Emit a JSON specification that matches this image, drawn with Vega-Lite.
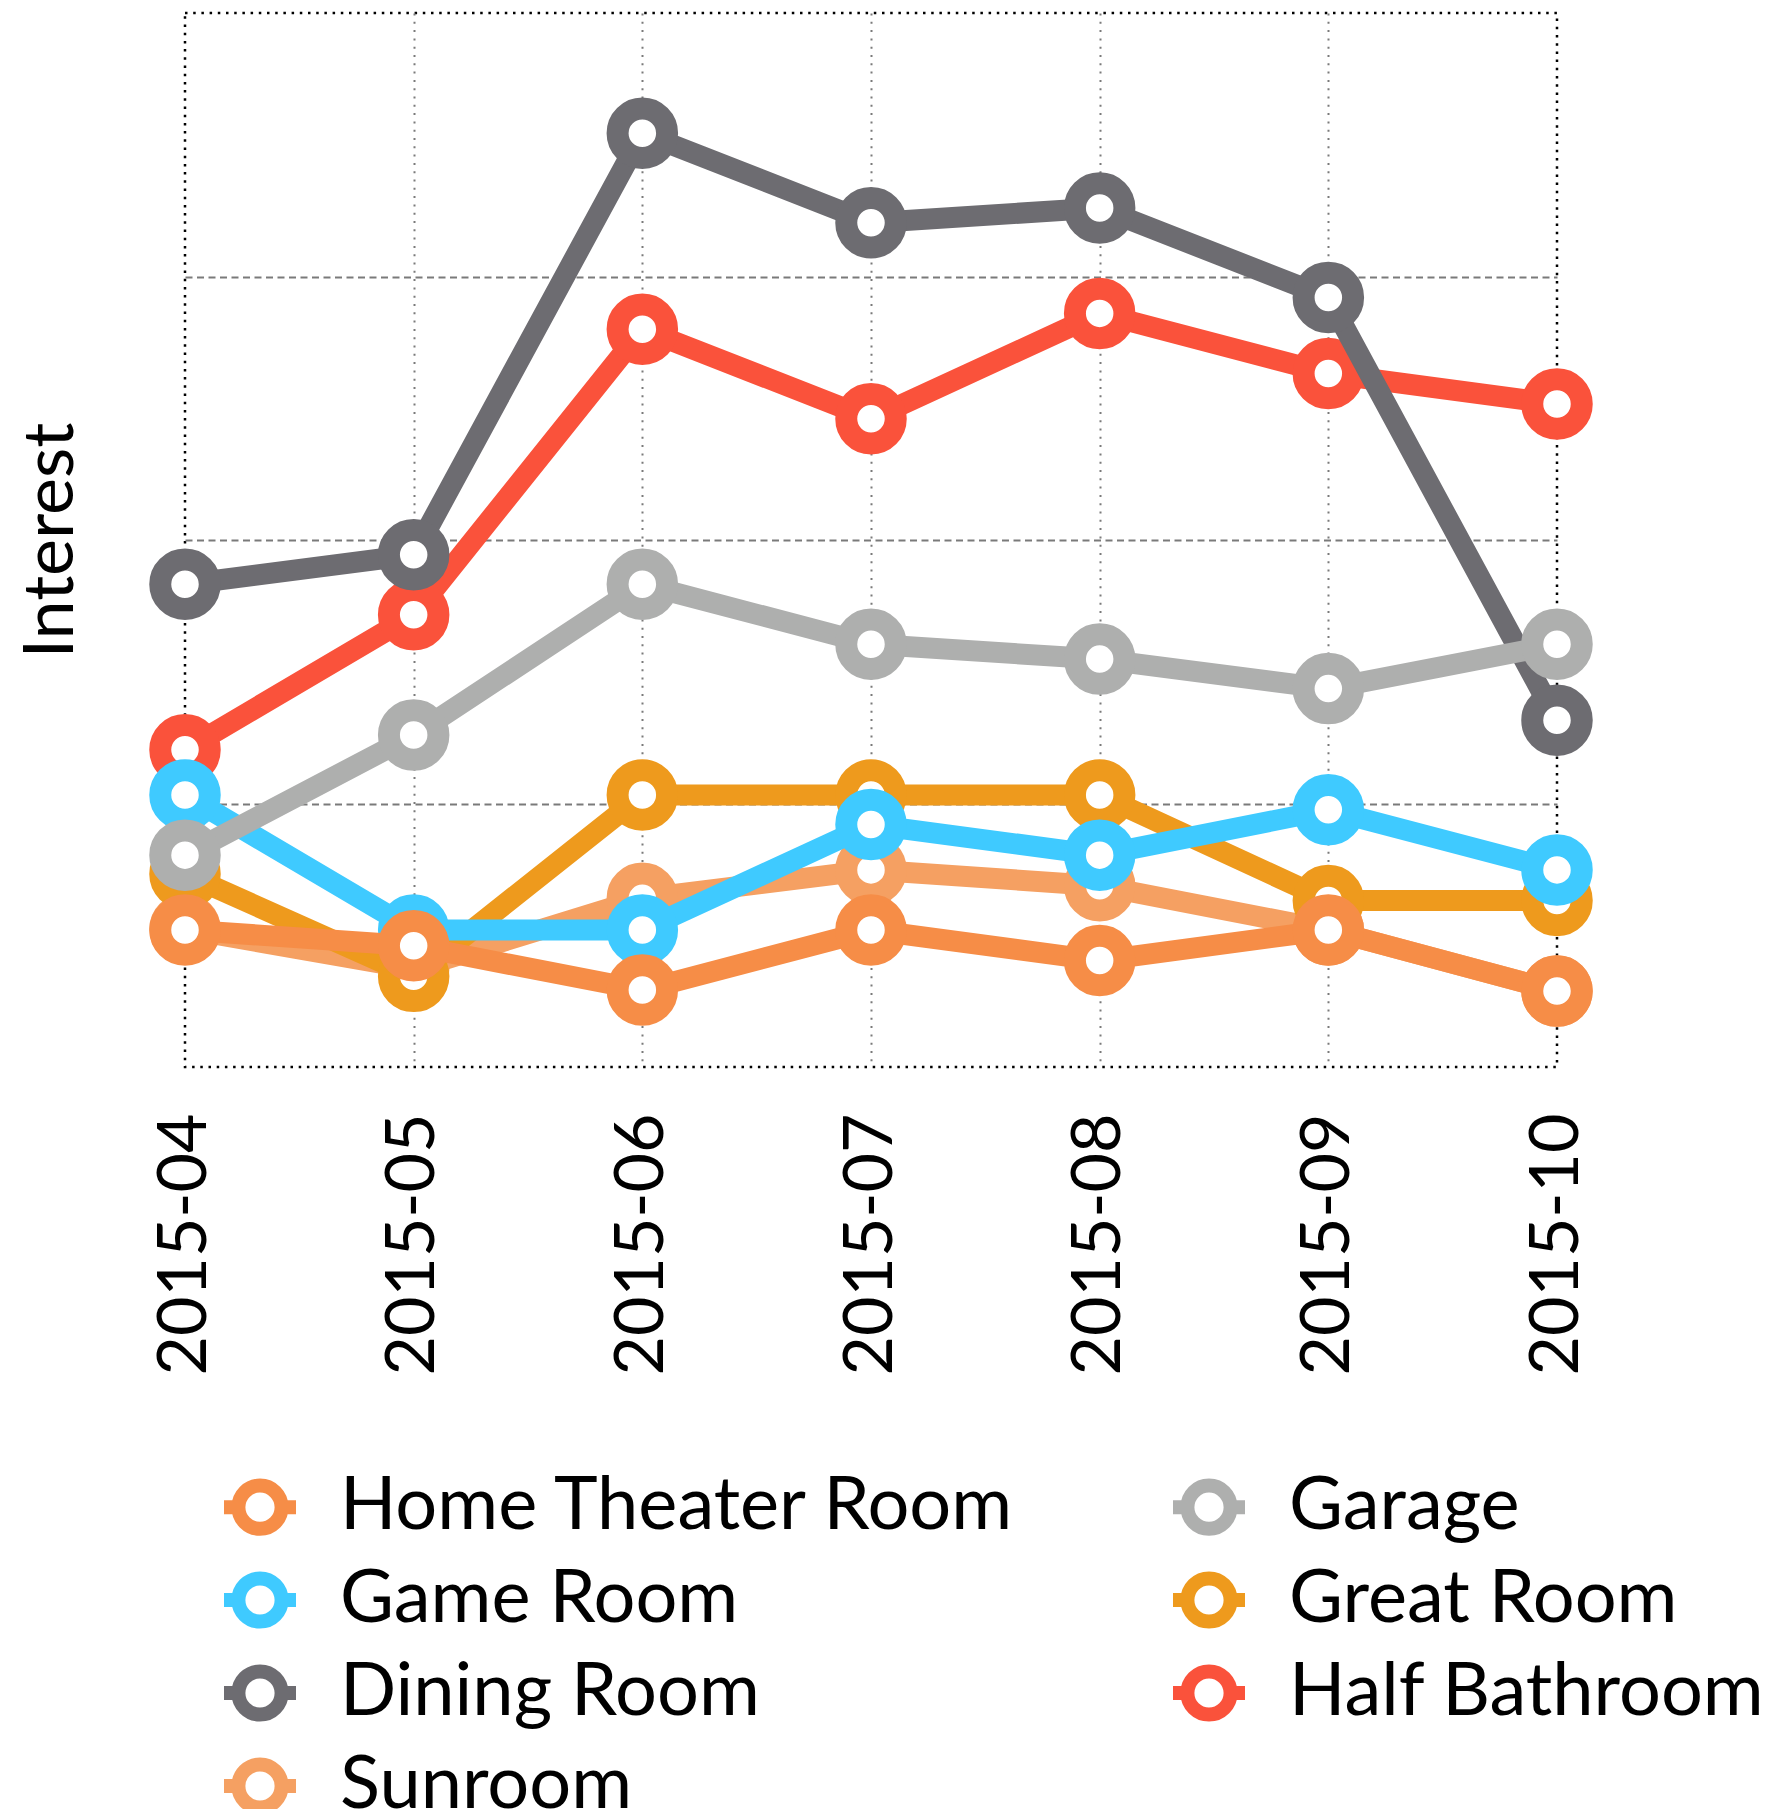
{
  "$schema": "https://vega.github.io/schema/vega-lite/v6.json",
  "width": 1372,
  "height": 1054,
  "autosize": {"type": "none"},
  "padding": {"left": 185, "top": 13, "right": 216, "bottom": 742},
  "background": "white",
  "config": {
    "font": "Lato",
    "view": {"stroke": "black", "strokeDash": [2.5, 5.7], "strokeWidth": 2.5}
  },
  "data": {
    "values": [
      {"room": "Home Theater Room", "month": "2015-04", "interest": 13.0},
      {"room": "Home Theater Room", "month": "2015-05", "interest": 11.5},
      {"room": "Home Theater Room", "month": "2015-06", "interest": 7.3},
      {"room": "Home Theater Room", "month": "2015-07", "interest": 13.0},
      {"room": "Home Theater Room", "month": "2015-08", "interest": 10.1},
      {"room": "Home Theater Room", "month": "2015-09", "interest": 13.0},
      {"room": "Home Theater Room", "month": "2015-10", "interest": 7.2},
      {"room": "Game Room", "month": "2015-04", "interest": 25.8},
      {"room": "Game Room", "month": "2015-05", "interest": 13.0},
      {"room": "Game Room", "month": "2015-06", "interest": 13.0},
      {"room": "Game Room", "month": "2015-07", "interest": 23.0},
      {"room": "Game Room", "month": "2015-08", "interest": 20.1},
      {"room": "Game Room", "month": "2015-09", "interest": 24.4},
      {"room": "Game Room", "month": "2015-10", "interest": 18.7},
      {"room": "Dining Room", "month": "2015-04", "interest": 45.8},
      {"room": "Dining Room", "month": "2015-05", "interest": 48.6},
      {"room": "Dining Room", "month": "2015-06", "interest": 88.6},
      {"room": "Dining Room", "month": "2015-07", "interest": 80.1},
      {"room": "Dining Room", "month": "2015-08", "interest": 81.5},
      {"room": "Dining Room", "month": "2015-09", "interest": 73.0},
      {"room": "Dining Room", "month": "2015-10", "interest": 32.9},
      {"room": "Sunroom", "month": "2015-04", "interest": 13.1},
      {"room": "Sunroom", "month": "2015-05", "interest": 9.3},
      {"room": "Sunroom", "month": "2015-06", "interest": 16.0},
      {"room": "Sunroom", "month": "2015-07", "interest": 18.7},
      {"room": "Sunroom", "month": "2015-08", "interest": 17.2},
      {"room": "Sunroom", "month": "2015-09", "interest": 13.0},
      {"room": "Sunroom", "month": "2015-10", "interest": 7.2},
      {"room": "Garage", "month": "2015-04", "interest": 20.1},
      {"room": "Garage", "month": "2015-05", "interest": 31.5},
      {"room": "Garage", "month": "2015-06", "interest": 45.8},
      {"room": "Garage", "month": "2015-07", "interest": 40.1},
      {"room": "Garage", "month": "2015-08", "interest": 38.7},
      {"room": "Garage", "month": "2015-09", "interest": 35.9},
      {"room": "Garage", "month": "2015-10", "interest": 40.1},
      {"room": "Great Room", "month": "2015-04", "interest": 18.3},
      {"room": "Great Room", "month": "2015-05", "interest": 8.6},
      {"room": "Great Room", "month": "2015-06", "interest": 25.8},
      {"room": "Great Room", "month": "2015-07", "interest": 25.8},
      {"room": "Great Room", "month": "2015-08", "interest": 25.8},
      {"room": "Great Room", "month": "2015-09", "interest": 15.8},
      {"room": "Great Room", "month": "2015-10", "interest": 15.8},
      {"room": "Half Bathroom", "month": "2015-04", "interest": 30.1},
      {"room": "Half Bathroom", "month": "2015-05", "interest": 42.9},
      {"room": "Half Bathroom", "month": "2015-06", "interest": 70.0},
      {"room": "Half Bathroom", "month": "2015-07", "interest": 61.5},
      {"room": "Half Bathroom", "month": "2015-08", "interest": 71.5},
      {"room": "Half Bathroom", "month": "2015-09", "interest": 65.8},
      {"room": "Half Bathroom", "month": "2015-10", "interest": 62.9}
    ]
  },
  "encoding": {
    "x": {
      "field": "month",
      "type": "ordinal",
      "scale": {"type": "point", "padding": 0},
      "axis": {
        "title": null,
        "labelAngle": -90,
        "labelFont": "Lato",
        "labelFontSize": 68,
        "labelColor": "black",
        "labelPadding": 46,
        "labelLimit": 1000,
        "ticks": false,
        "domain": false,
        "grid": true,
        "gridColor": "#7a7a7a",
        "gridDash": [2, 6.3],
        "gridWidth": 2,
        "gridOpacity": {"condition": {"test": "datum.value === '2015-04' || datum.value === '2015-10'", "value": 0}, "value": 1}
      }
    },
    "y": {
      "field": "interest",
      "type": "quantitative",
      "scale": {"domain": [0, 100], "nice": false, "zero": false},
      "axis": {
        "title": "Interest",
        "titleFont": "Lato",
        "titleFontSize": 70,
        "titleFontWeight": "normal",
        "titleColor": "black",
        "titlePadding": 98,
        "labels": false,
        "ticks": false,
        "domain": false,
        "grid": true,
        "values": [25, 50, 75],
        "gridColor": "#7a7a7a",
        "gridDash": [7, 4.5],
        "gridWidth": 2
      }
    },
    "color": {
      "field": "room",
      "type": "nominal",
      "scale": {
        "domain": ["Home Theater Room", "Game Room", "Dining Room", "Sunroom", "Garage", "Great Room", "Half Bathroom"],
        "range": ["#F68D47", "#3FCAFF", "#6D6C71", "#F5A062", "#AEAFAE", "#EE9A1D", "#FA523B"]
      },
      "legend": {
        "orient": "none",
        "legendX": 32,
        "legendY": 1451,
        "columns": 2,
        "title": null,
        "padding": 0,
        "labelFont": "Lato",
        "labelFontSize": 74,
        "labelColor": "black",
        "labelLimit": 0,
        "labelOffset": 37,
        "rowPadding": -10,
        "columnPadding": 129,
        "symbolType": "M-1,0L-0.6,0M0.6,0L1,0M0.6,0A0.6,0.6,0,1,1,-0.6,0A0.6,0.6,0,1,1,0.6,0Z",
        "symbolSize": 5184,
        "symbolStrokeWidth": 14,
        "symbolFillColor": "white",
        "symbolOpacity": 1
      }
    }
  },
  "layer": [
    {"transform": [{"filter": "datum.room === 'Half Bathroom'"}], "layer": [
      {"mark": {"type": "line", "strokeWidth": 21, "strokeJoin": "round"}},
      {"mark": {"type": "point", "shape": "circle", "filled": false, "fill": "white", "size": 2450, "strokeWidth": 22, "opacity": 1}}
    ]},
    {"transform": [{"filter": "datum.room === 'Sunroom'"}], "layer": [
      {"mark": {"type": "line", "strokeWidth": 21, "strokeJoin": "round"}},
      {"mark": {"type": "point", "shape": "circle", "filled": false, "fill": "white", "size": 2450, "strokeWidth": 22, "opacity": 1}}
    ]},
    {"transform": [{"filter": "datum.room === 'Great Room'"}], "layer": [
      {"mark": {"type": "line", "strokeWidth": 21, "strokeJoin": "round"}},
      {"mark": {"type": "point", "shape": "circle", "filled": false, "fill": "white", "size": 2450, "strokeWidth": 22, "opacity": 1}}
    ]},
    {"transform": [{"filter": "datum.room === 'Dining Room'"}], "layer": [
      {"mark": {"type": "line", "strokeWidth": 21, "strokeJoin": "round"}},
      {"mark": {"type": "point", "shape": "circle", "filled": false, "fill": "white", "size": 2450, "strokeWidth": 22, "opacity": 1}}
    ]},
    {"transform": [{"filter": "datum.room === 'Game Room'"}], "layer": [
      {"mark": {"type": "line", "strokeWidth": 21, "strokeJoin": "round"}},
      {"mark": {"type": "point", "shape": "circle", "filled": false, "fill": "white", "size": 2450, "strokeWidth": 22, "opacity": 1}}
    ]},
    {"transform": [{"filter": "datum.room === 'Garage'"}], "layer": [
      {"mark": {"type": "line", "strokeWidth": 21, "strokeJoin": "round"}},
      {"mark": {"type": "point", "shape": "circle", "filled": false, "fill": "white", "size": 2450, "strokeWidth": 22, "opacity": 1}}
    ]},
    {"transform": [{"filter": "datum.room === 'Home Theater Room'"}], "layer": [
      {"mark": {"type": "line", "strokeWidth": 21, "strokeJoin": "round"}},
      {"mark": {"type": "point", "shape": "circle", "filled": false, "fill": "white", "size": 2450, "strokeWidth": 22, "opacity": 1}}
    ]}
  ]
}
